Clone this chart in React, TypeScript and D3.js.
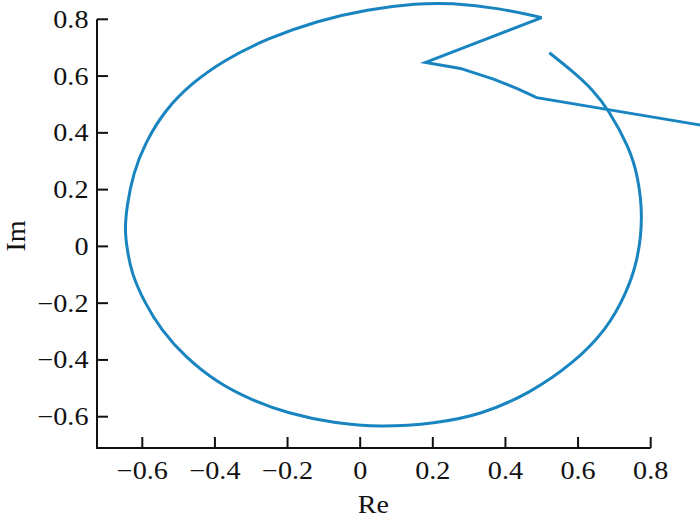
import React from "react";
import * as d3 from "d3";

// Nyquist curve: smooth loop part
const arcRe = [0.521, 0.587, 0.641, 0.683, 0.742, 0.765, 0.779, 0.765, 0.733, 0.678, 0.587, 0.468, 0.331, 0.207, 0.056, -0.072, -0.2, -0.3, -0.392, -0.483, -0.548, -0.593, -0.63, -0.643, -0.648, -0.643, -0.625, -0.593, -0.538, -0.465, -0.374, -0.255, -0.117, 0.02, 0.157, 0.248, 0.385, 0.5];
const arcIm = [0.682, 0.615, 0.551, 0.483, 0.346, 0.246, 0.105, -0.048, -0.165, -0.294, -0.412, -0.517, -0.594, -0.624, -0.637, -0.623, -0.588, -0.541, -0.482, -0.389, -0.294, -0.2, -0.095, -0.001, 0.058, 0.14, 0.257, 0.363, 0.48, 0.574, 0.657, 0.733, 0.795, 0.835, 0.856, 0.858, 0.839, 0.806];
// Nyquist curve: sparse tail (polyline)
const tailRe = [0.5, 0.18, 0.276, 0.367, 0.431, 0.486, 0.934, 0.99];
const tailIm = [0.806, 0.648, 0.627, 0.589, 0.557, 0.524, 0.428, 0.416];

const xTicks = [-0.6, -0.4, -0.2, 0, 0.2, 0.4, 0.6, 0.8];
const yTicks = [-0.6, -0.4, -0.2, 0, 0.2, 0.4, 0.6, 0.8];
const xLabel = "Re";
const yLabel = "Im";

const W = 700;
const H = 522;
const COLOR = "#1985c0";
const FONT = "'Liberation Serif', 'Times New Roman', serif";

export default function App() {
  const x = d3.scaleLinear().domain([-0.6, 0.8]).range([142.3, 650.7]);
  const y = d3.scaleLinear().domain([-0.6, 0.8]).range([416.7, 19.3]);
  const axisY = 448;
  const axisX = 97;
  const fmt = d3.format("~g");

  const arcPts: [number, number][] = arcRe.map((r, i) => [r, arcIm[i]]);
  const tailPts: [number, number][] = tailRe.map((r, i) => [r, tailIm[i]]);
  const smooth = d3
    .line<[number, number]>()
    .x((d) => x(d[0]))
    .y((d) => y(d[1]))
    .curve(d3.curveBasis);
  const straight = d3
    .line<[number, number]>()
    .x((d) => x(d[0]))
    .y((d) => y(d[1]));

  return (
    <svg
      width={W}
      height={H}
      style={{ position: "absolute", left: 0, top: 0, background: "#fff" }}
    >
      <path d={smooth(arcPts) || ""} fill="none" stroke={COLOR} strokeWidth={3} strokeLinejoin="round" />
      <path d={straight(tailPts) || ""} fill="none" stroke={COLOR} strokeWidth={3} strokeLinejoin="miter" />

      {/* axes */}
      <line x1={axisX} x2={axisX} y1={y(0.8)} y2={axisY + 1} stroke="#111" strokeWidth={2} />
      <line x1={axisX - 1} x2={x(0.8)} y1={axisY} y2={axisY} stroke="#111" strokeWidth={2} />
      {yTicks.map((t) => (
        <g key={"y" + t}>
          <line x1={axisX} x2={axisX + 11} y1={y(t)} y2={y(t)} stroke="#111" strokeWidth={2} />
          <text
            transform={`translate(${88.5},${y(t) + 8.5}) scale(1.15,1)`}
            textAnchor="end"
            fontFamily={FONT}
            fontSize={24.5}
            fill="#111"
          >
            {fmt(t)}
          </text>
        </g>
      ))}
      {xTicks.map((t) => (
        <g key={"x" + t}>
          <line x1={x(t)} x2={x(t)} y1={axisY} y2={axisY - 11} stroke="#111" strokeWidth={2} />
          <text
            transform={`translate(${x(t)},${479}) scale(1.15,1)`}
            textAnchor="middle"
            fontFamily={FONT}
            fontSize={24.5}
            fill="#111"
          >
            {fmt(t)}
          </text>
        </g>
      ))}
      <text
        transform={`translate(${(96 + x(0.8)) / 2},${513}) scale(1.12,1)`}
        textAnchor="middle"
        fontFamily={FONT}
        fontSize={25}
        fill="#111"
      >
        {xLabel}
      </text>
      <text
        transform={`translate(${25},${236}) rotate(-90) scale(1.12,1.1)`}
        textAnchor="middle"
        fontFamily={FONT}
        fontSize={25}
        fill="#111"
      >
        {yLabel}
      </text>
    </svg>
  );
}
